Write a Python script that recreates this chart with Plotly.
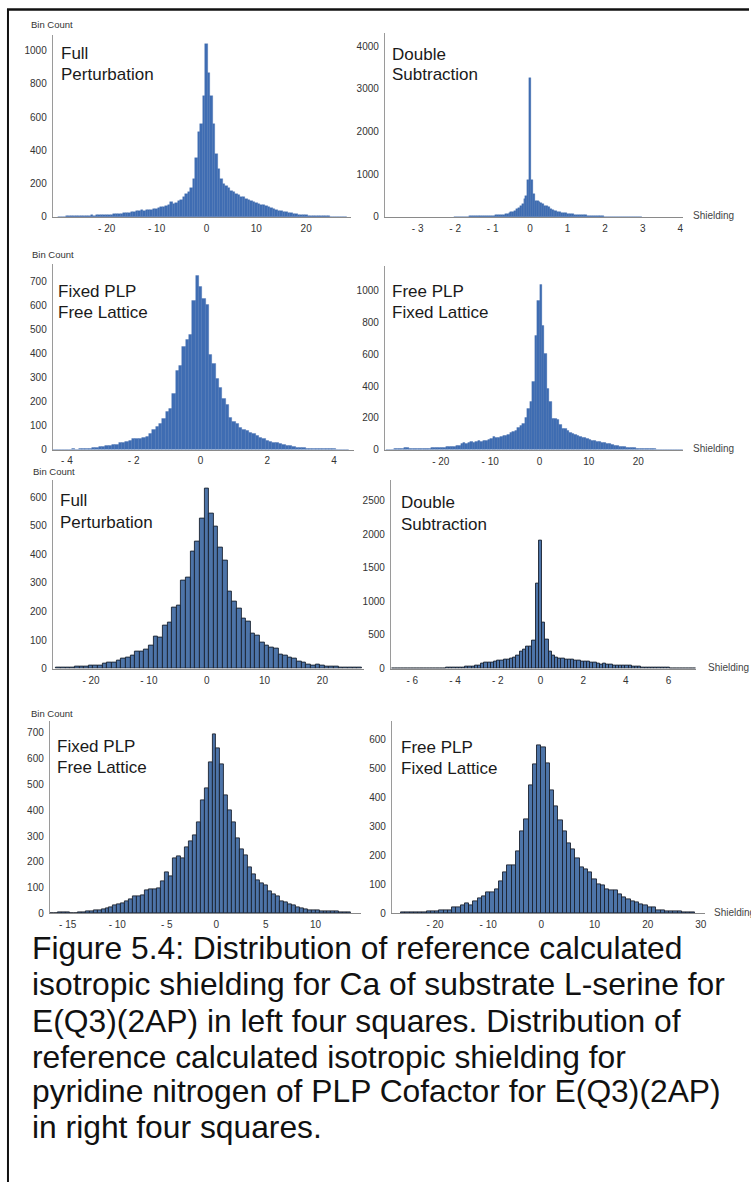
import numpy as np
import plotly.graph_objects as go

W, H = 751, 1188

# ---------------- data (bin counts) ----------------
# Panel 1: Full Perturbation (Ca, L-serine)
p1_first_center, p1_bin = -29.5, 0.5
p1_counts = [2, 3, 3, 4, 5, 4, 6, 7, 6, 8, 7, 9, 8, 10, 9, 11, 10, 12, 11, 13,
             14, 13, 16, 18, 17, 20, 22, 24, 23, 28,
             30, 34, 38, 40, 39, 42, 45, 43, 48, 50,
             52, 58, 60, 66, 72, 90, 80, 85, 95, 100,
             120, 140, 150, 175,
             230, 355, 510, 560, 730, 1040,
             866, 730, 560, 380, 290, 230,
             200, 185, 175, 160,
             150, 140, 132, 122, 118, 110, 105, 95, 88, 82,
             80, 75, 70, 64, 58, 53, 47, 43, 39, 35,
             31, 28, 25, 22, 20, 18, 15, 13, 12, 10,
             9, 8, 7, 7, 6, 5, 5, 4, 4, 3, 3, 3, 2, 2, 2, 1]

# Panel 2: Double Subtraction (pyridine N)
p2_first_center, p2_bin = -2.0, 0.05
p2_counts = [3, 4, 5, 6, 8, 9, 10, 12, 14, 16,
             18, 20, 22, 24, 22, 25, 27, 26, 28, 30,
             32, 35, 38, 42, 45, 50, 60, 70, 80, 95,
             110, 125, 150, 180, 210, 250, 300, 420, 500, 870,
             3250,
             880, 540, 385, 370, 360, 330, 300, 270, 250, 230,
             190, 170, 150, 135, 120, 110, 100, 92, 85, 80,
             72, 68, 62, 58, 55, 50, 46, 42, 40, 38,
             34, 30, 27, 24, 22, 20, 18, 16, 14, 12,
             10, 9, 8, 7, 6, 6, 5, 5, 4, 4, 3, 3, 3, 2, 2, 2, 2, 1, 1]

# Panel 3: Fixed PLP / Free Lattice (Ca)
p3_first_center, p3_bin = -4.4, 0.1
p3_counts = [1, 1, 2, 1, 2, 2, 3, 2, 3, 4,
             5, 6, 8, 10, 12, 14, 15, 18, 22, 20,
             28, 30, 32, 38, 45, 48, 47, 50, 55, 65,
             85, 95, 110, 130, 160, 170, 235, 330, 350, 430,
             460, 480, 620, 726, 680,
             632, 605, 396, 360, 298, 257, 215, 190, 132, 115,
             108, 90, 83, 78, 70, 65, 58, 52, 45, 38,
             35, 30, 28, 25, 22, 18, 15, 13, 10, 8,
             7, 6, 6, 5, 5, 4, 4, 3, 3, 3, 2, 2, 2, 1]

# Panel 4: Free PLP / Fixed Lattice (pyridine N)
p4_first_center, p4_bin = -30.75, 0.5
p4_counts = [2, 3, 3, 4, 5, 6, 8, 12, 10, 6,
             5, 5, 6, 6, 7, 8, 8, 9, 10, 10,
             12, 12, 14, 15, 18, 20, 22, 22, 25, 28,
             35, 42, 38, 45, 48, 44, 50, 55, 52, 60,
             58, 62, 72, 80, 78, 76, 85, 90, 88, 95,
             105, 112,
             120, 140, 150, 166, 200, 260, 300, 426, 718, 936,
             1036, 780, 603, 385, 300, 198, 198, 187, 160, 135,
             135, 119, 110, 104, 94, 90, 80, 73, 75, 68,
             62, 58, 55, 52, 48, 45, 42, 40, 35, 31,
             28, 25, 22, 20, 18, 15, 13, 11, 10, 9,
             8, 7, 6, 5, 5, 4, 4, 3, 3, 3,
             2, 2, 2, 2, 1, 1, 1, 1]

# Panel 5: Full Perturbation (Ca), second set
p5_first_center, p5_bin = -25.6, 0.8
p5_counts = [3, 4, 4, 5, 6, 6, 8, 9, 10, 12, 17, 20, 22, 28, 35, 40,
             44, 58, 60, 67, 80, 113, 108, 150, 160, 215, 220, 310, 320, 410, 445, 525,
             630,
             543, 497, 425, 377, 270, 235, 210, 175, 163, 121, 115, 92, 80, 74, 70, 50,
             44, 40, 35, 25, 22, 15, 12, 13, 10, 8, 7, 6, 5, 4, 4, 3, 2]

# Panel 6: Double Subtraction (pyridine N), second set
p6_first_center, p6_bin = -6.9, 0.15
p6_counts = [2, 2, 3, 3, 3, 4, 4, 4, 5, 5,
             5, 6, 6, 7, 7, 8, 8, 9, 10, 10,
             12, 15, 18, 25, 30, 35, 40, 50, 70, 85,
             90, 95, 100, 115, 125, 130, 140, 150, 170, 200,
             260, 290, 330, 330, 420, 1270,
             1900,
             690, 435, 250, 200, 170, 150, 145, 140, 135, 130,
             125, 120, 110, 105, 100, 90, 85, 80, 65, 70,
             60, 55, 50, 50, 45, 45, 40, 38, 35, 30,
             25, 22, 20, 18, 16, 14, 12, 12, 10, 10,
             8, 8, 7, 6, 5, 4, 3, 2]

# Panel 7: Fixed PLP / Free Lattice (Ca), second set
p7_first_center, p7_bin = -16.6, 0.4
p7_counts = [1, 2, 4, 4, 3, 1, 2, 3, 4, 6,
             8, 10, 13, 17, 20, 24, 30, 35, 39, 45,
             55, 65, 68, 71, 88, 92, 95, 97, 123, 161,
             142, 213, 220, 215, 258, 280, 303, 355, 440, 484, 587,
             695,
             640, 580, 458, 400, 355, 290, 250, 226, 180, 150,
             130, 116, 110, 84, 75, 65, 48, 42, 35, 30,
             24, 20, 15, 13, 11, 10, 9, 8, 7, 6,
             6, 5, 4, 3]

# Panel 8: Free PLP / Fixed Lattice (pyridine N), second set
p8_first_center, p8_bin = -26.0, 0.8
p8_counts = [2, 2, 3, 3, 4, 5, 7, 6, 8, 9, 9, 12, 20, 22, 28, 35,
             28, 40, 51, 60, 72, 74, 82, 111, 140, 165, 165, 214, 284, 324, 440, 512,
             580,
             572, 515, 424, 367, 321, 282, 240, 220, 190, 160, 150, 140, 117, 100, 95,
             83, 80, 78, 66, 55, 49, 42, 38, 30, 26, 22, 20, 12, 9, 8, 7, 6, 6, 5, 4, 3]

panel_titles = [["Full", "Perturbation"], ["Double", "Subtraction"],
                ["Fixed PLP", "Free Lattice"], ["Free PLP", "Fixed Lattice"],
                ["Full", "Perturbation"], ["Double", "Subtraction"],
                ["Fixed PLP", "Free Lattice"], ["Free PLP", "Fixed Lattice"]]

x_tickvals = [[-20, -10, 0, 10, 20], [-3, -2, -1, 0, 1, 2, 3, 4],
              [-4, -2, 0, 2, 4], [-20, -10, 0, 10, 20],
              [-20, -10, 0, 10, 20], [-6, -4, -2, 0, 2, 4, 6],
              [-15, -10, -5, 0, 5, 10], [-20, -10, 0, 10, 20, 30]]
y_tickvals = [[0, 200, 400, 600, 800, 1000], [0, 1000, 2000, 3000, 4000],
              [0, 100, 200, 300, 400, 500, 600, 700], [0, 200, 400, 600, 800, 1000],
              [0, 100, 200, 300, 400, 500, 600], [0, 500, 1000, 1500, 2000, 2500],
              [0, 100, 200, 300, 400, 500, 600, 700], [0, 100, 200, 300, 400, 500, 600]]

caption_lines = ["Figure 5.4: Distribution of reference calculated",
                 "isotropic shielding for Ca of substrate L-serine for",
                 "E(Q3)(2AP) in left four squares. Distribution of",
                 "reference calculated isotropic shielding for",
                 "pyridine nitrogen of PLP Cofactor for E(Q3)(2AP)",
                 "in right four squares."]

series = [(p1_first_center, p1_bin, p1_counts), (p2_first_center, p2_bin, p2_counts),
          (p3_first_center, p3_bin, p3_counts), (p4_first_center, p4_bin, p4_counts),
          (p5_first_center, p5_bin, p5_counts), (p6_first_center, p6_bin, p6_counts),
          (p7_first_center, p7_bin, p7_counts), (p8_first_center, p8_bin, p8_counts)]

# ---------------- layout geometry (pixels) ----------------
geom = [
    dict(box=(53, 352, 35, 218), xr=(-30.8, 29.0), ymax=1096),
    dict(box=(386, 685, 33, 218), xr=(-3.87, 4.08), ymax=4312),
    dict(box=(53, 355, 265, 452), xr=(-4.42, 4.60), ymax=776),
    dict(box=(386, 685, 267, 452), xr=(-31.3, 29.1), ymax=1156),
    dict(box=(53, 365, 482, 672), xr=(-26.6, 27.2), ymax=662),
    dict(box=(392, 698, 482, 672), xr=(-7.0, 7.29), ymax=2811),
    dict(box=(50, 362, 725, 918), xr=(-16.8, 14.6), ymax=745),
    dict(box=(393, 707, 725, 918), xr=(-28.1, 30.8), ymax=661),
]
x_standoff = [2, 2, 1, 2, 2, 2, 2, 2]
title_pos = [(60, 54, 75), (392, 55, 75), (57, 293, 314), (392, 293, 314),
             (59, 503, 525), (401, 505, 527), (56, 750, 771), (401, 751, 772)]
bincount_pos = [(30, 25), (31, 256), (32, 474), (30, 717)]
shield_pos = [(694, 217), (694, 451), (709, 671), (715, 917)]
caption_centers = [953, 989, 1026, 1062, 1097, 1133]


def px(x):
    return x / W


def py(y):
    return 1 - y / H


def tick_text(v):
    return f"- {abs(v)}" if v < 0 else str(v)


fig = go.Figure()
layout = dict(
    width=W, height=H, margin=dict(l=0, r=0, t=0, b=0),
    paper_bgcolor="white", plot_bgcolor="white", showlegend=False,
    bargap=0, font=dict(family="Arial, Liberation Sans, sans-serif", color="#222"),
)
annotations = []
shapes = []

for i, ((c0, bw, counts), g) in enumerate(zip(series, geom)):
    n = i + 1
    xa = "x" if n == 1 else f"x{n}"
    ya = "y" if n == 1 else f"y{n}"
    centers = c0 + bw * np.arange(len(counts))
    bottom_row = i >= 4
    fig.add_trace(go.Bar(
        x=centers, y=counts, width=bw, xaxis=xa, yaxis=ya,
        marker=dict(color="#4d74a8" if bottom_row else "#3f6db3",
                    line=dict(color="#1b2230" if bottom_row else "#3a64a6",
                              width=0.9 if bottom_row else 0.3)),
        hoverinfo="skip",
    ))
    l, r, t, b = g["box"]
    layout["xaxis" if n == 1 else f"xaxis{n}"] = dict(
        domain=[px(l), px(r)], range=list(g["xr"]), anchor=ya,
        showline=True, linecolor="#8a8a8a", linewidth=1.2,
        showgrid=False, zeroline=False, ticks="",
        tickvals=x_tickvals[i], ticktext=[tick_text(v) for v in x_tickvals[i]],
        tickfont=dict(size=10, color="#333"), ticklabelstandoff=x_standoff[i],
        fixedrange=True,
    )
    layout["yaxis" if n == 1 else f"yaxis{n}"] = dict(
        domain=[py(b), py(t)], range=[0, g["ymax"]], anchor=xa,
        showline=True, linecolor="#9a9a9a", linewidth=1.2,
        showgrid=False, zeroline=False, ticks="",
        tickvals=y_tickvals[i], ticktext=[str(v) for v in y_tickvals[i]],
        tickfont=dict(size=10, color="#333"), ticklabelstandoff=3,
        fixedrange=True,
    )
    tx, ty1, ty2 = title_pos[i]
    for line, yy in zip(panel_titles[i], (ty1, ty2)):
        annotations.append(dict(
            text=line, x=px(tx), y=py(yy), xref="paper", yref="paper",
            xanchor="left", yanchor="middle", showarrow=False,
            borderpad=0, font=dict(size=17, color="#1a1a1a"),
        ))

for (bx, by) in bincount_pos:
    annotations.append(dict(
        text="Bin Count", x=px(bx), y=py(by), xref="paper", yref="paper",
        xanchor="left", yanchor="middle", showarrow=False, borderpad=0,
        font=dict(size=9.5, color="#333"),
    ))
for (sx, sy) in shield_pos:
    annotations.append(dict(
        text="Shielding", x=px(sx), y=py(sy), xref="paper", yref="paper",
        xanchor="left", yanchor="middle", showarrow=False, borderpad=0,
        font=dict(size=10, color="#444"),
    ))
for line, cy in zip(caption_lines, caption_centers):
    annotations.append(dict(
        text=line, x=px(31), y=py(cy), xref="paper", yref="paper",
        xanchor="left", yanchor="middle", showarrow=False, borderpad=0,
        font=dict(size=31.8, color="#111"),
    ))

# page border (top and left rules)
shapes.append(dict(type="line", xref="paper", yref="paper",
                   x0=px(7), x1=1.0, y0=py(9.5), y1=py(9.5),
                   line=dict(color="#111", width=2.5)))
shapes.append(dict(type="line", xref="paper", yref="paper",
                   x0=px(8), x1=px(8), y0=py(9), y1=0.0,
                   line=dict(color="#111", width=2)))

layout["annotations"] = annotations
layout["shapes"] = shapes
fig.update_layout(**layout)
fig.write_html("out.html", config={"displayModeBar": False})
